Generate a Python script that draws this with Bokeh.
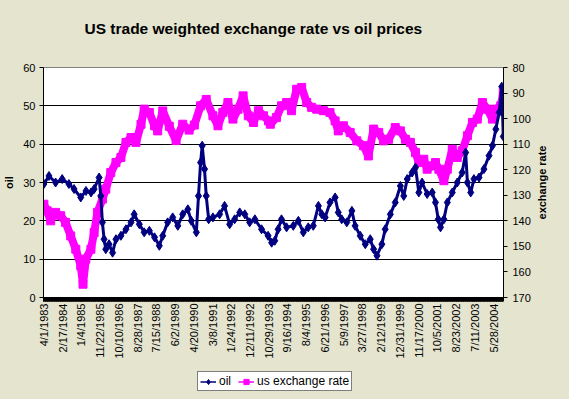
import math
import pandas as pd
from bokeh.plotting import figure
from bokeh.layouts import column, row
from bokeh.models import (Range1d, LinearAxis, FixedTicker, CustomJSTickFormatter,
                          Legend, LegendItem, Title)
from bokeh.embed import file_html
from bokeh.resources import INLINE

# ---------------- data ----------------
oil_dates = [
    "1983-04-01", "1983-06-28", "1983-10-20", "1984-02-10", "1984-06-05", "1984-09-01",
    "1984-12-25", "1985-03-25", "1985-06-20", "1985-08-12", "1985-11-05", "1985-12-05",
    "1986-01-01", "1986-01-30", "1986-02-28", "1986-04-25", "1986-06-25", "1986-08-22",
    "1986-11-15", "1987-02-10", "1987-05-08", "1987-07-01", "1987-09-28", "1987-12-20",
    "1988-03-18", "1988-06-15", "1988-09-05", "1988-11-03", "1989-01-26", "1989-04-23",
    "1989-07-20", "1989-10-12", "1990-01-08", "1990-03-08", "1990-06-03", "1990-07-10",
    "1990-08-15", "1990-09-12", "1990-10-22", "1990-11-20", "1991-01-01", "1991-03-15",
    "1991-07-08", "1991-10-01", "1991-12-28", "1992-03-22", "1992-06-18", "1992-09-13",
    "1992-12-06", "1993-03-05", "1993-06-28", "1993-10-18", "1993-12-18", "1994-02-10",
    "1994-04-08", "1994-06-05", "1994-09-01", "1994-12-25", "1995-03-22", "1995-06-15",
    "1995-09-08", "1995-12-03", "1996-03-01", "1996-04-28", "1996-06-25", "1996-09-16",
    "1996-12-13", "1997-02-05", "1997-04-05", "1997-07-01", "1997-09-27", "1997-11-22",
    "1998-02-17", "1998-05-15", "1998-08-08", "1998-10-05", "1998-12-02", "1999-02-24",
    "1999-04-22", "1999-07-20", "1999-10-12", "2000-01-08", "2000-03-06", "2000-05-05",
    "2000-07-28", "2000-09-24", "2000-11-20", "2001-01-15", "2001-04-12", "2001-07-08",
    "2001-09-02", "2001-10-20", "2001-11-28", "2002-01-25", "2002-03-25", "2002-06-18",
    "2002-09-12", "2002-12-05", "2003-02-03", "2003-03-05", "2003-05-01", "2003-06-25",
    "2003-09-20", "2003-12-14", "2004-03-10", "2004-05-08", "2004-07-05", "2004-09-01",
    "2004-10-15", "2004-10-29", "2004-11-10",
]
oil_values = [
    29.6, 31.7, 30.0, 30.9, 29.6, 28.3,
    26.1, 27.8, 27.4, 28.3, 31.3, 26.5,
    19.6, 15.2, 12.6, 13.9, 11.7, 15.2,
    16.1, 17.8, 19.6, 21.7, 19.1, 17.0,
    17.4, 15.7, 13.5, 16.1, 19.6, 20.9,
    18.7, 21.7, 23.0, 20.0, 17.0, 26.5,
    35.2, 39.6, 33.5, 26.5, 20.4, 20.9,
    21.7, 23.9, 19.1, 20.4, 22.2, 21.7,
    19.6, 20.4, 17.8, 16.1, 14.3, 14.8,
    17.8, 20.4, 18.3, 18.7, 20.0, 17.0,
    18.3, 18.7, 23.9, 21.7, 20.9, 24.8,
    26.1, 22.2, 20.4, 19.6, 22.6, 18.7,
    16.1, 13.9, 15.2, 12.6, 10.9, 13.9,
    17.8, 21.7, 24.8, 29.1, 26.5, 30.9,
    32.6, 33.9, 27.4, 30.0, 27.0, 27.4,
    24.8, 20.4, 18.3, 20.4, 24.8, 27.4,
    30.0, 32.6, 37.8, 30.0, 27.4, 30.9,
    31.3, 33.5, 37.0, 39.6, 43.9, 48.3,
    55.0, 48.3, 42.0,
]

fx_dates = [
    "1983-04-01", "1983-05-28", "1983-07-27", "1983-10-20", "1984-01-15", "1984-04-08",
    "1984-07-05", "1984-10-01", "1984-12-25", "1985-02-02", "1985-03-22", "1985-06-18",
    "1985-08-12", "1985-10-08", "1986-01-01", "1986-02-28", "1986-05-25", "1986-08-22",
    "1986-11-15", "1987-02-10", "1987-05-08", "1987-08-01", "1987-10-27", "1987-12-20",
    "1988-03-18", "1988-06-15", "1988-08-08", "1988-11-03", "1989-02-24", "1989-06-20",
    "1989-10-12", "1990-01-30", "1990-04-30", "1990-08-15", "1990-11-20", "1991-03-15",
    "1991-06-10", "1991-09-01", "1991-11-28", "1992-02-22", "1992-05-20", "1992-08-15",
    "1992-11-12", "1993-02-10", "1993-05-05", "1993-08-01", "1993-10-25", "1993-11-25",
    "1994-03-10", "1994-06-05", "1994-09-01", "1994-11-25", "1995-02-20", "1995-05-18",
    "1995-08-12", "1995-11-05", "1996-01-30", "1996-05-26", "1996-09-16", "1996-12-13",
    "1997-02-05", "1997-05-05", "1997-08-28", "1997-12-20", "1998-04-15", "1998-07-08",
    "1998-10-05", "1999-01-01", "1999-03-25", "1999-06-20", "1999-10-12", "2000-01-08",
    "2000-04-05", "2000-06-28", "2000-09-24", "2000-11-20", "2001-02-14", "2001-04-12",
    "2001-07-08", "2001-09-02", "2001-10-30", "2002-01-25", "2002-03-25", "2002-06-18",
    "2002-09-12", "2002-12-05", "2003-03-05", "2003-05-30", "2003-08-22", "2003-11-17",
    "2004-02-10", "2004-05-08", "2004-07-05", "2004-09-28", "2004-11-10",
]
fx_values = [
    133.5, 136.1, 140.0, 136.7, 138.0, 140.6,
    145.9, 151.1, 157.6, 164.8, 155.0, 151.1,
    144.6, 136.7, 131.5, 127.6, 121.1, 117.2,
    115.2, 109.3, 107.4, 109.3, 102.2, 96.3,
    97.6, 102.8, 104.8, 97.0, 103.0, 108.6,
    102.2, 104.5, 102.5, 95.0, 92.5, 98.9,
    102.8, 97.6, 93.7, 100.2, 96.3, 91.1,
    98.9, 101.5, 96.9, 98.9, 100.9, 102.2,
    99.6, 95.0, 93.7, 96.9, 88.5, 87.8,
    93.7, 95.6, 96.3, 96.9, 97.6, 100.9,
    104.8, 102.8, 105.4, 108.7, 110.6, 114.6,
    104.1, 105.4, 108.7, 108.1, 103.5, 104.8,
    108.1, 109.3, 113.3, 117.2, 115.9, 119.8,
    118.5, 117.2, 119.8, 124.3, 119.8, 112.0,
    115.2, 112.6, 106.7, 101.5, 100.2, 93.7,
    96.3, 100.2, 96.3, 95.0, 89.8,
]

x_labels = ["4/1/1983", "2/17/1984", "1/4/1985", "11/22/1985", "10/10/1986", "8/28/1987",
            "7/15/1988", "6/2/1989", "4/20/1990", "3/8/1991", "1/24/1992", "12/11/1992",
            "10/29/1993", "9/16/1994", "8/4/1995", "6/21/1996", "5/9/1997", "3/27/1998",
            "2/12/1999", "12/31/1999", "11/17/2000", "10/5/2001", "8/23/2002", "7/11/2003",
            "5/28/2004"]
oil_ticks = [0, 10, 20, 30, 40, 50, 60]
fx_ticks = [80, 90, 100, 110, 120, 130, 140, 150, 160, 170]

# ---------------- helpers ----------------
EPOCH = pd.Timestamp("1970-01-01")
def to_ms(ts):
    return (pd.DatetimeIndex(ts) - EPOCH) // pd.Timedelta(milliseconds=1)

oil_x = pd.to_datetime(oil_dates)
fx_x = pd.to_datetime(fx_dates)
tick_ms = list(to_ms(pd.to_datetime(x_labels, format="%m/%d/%Y")))
week_ms = list(to_ms(pd.date_range("1983-04-01", "2004-11-12", freq="7D")))

BG = "#E4E4CF"
FONT = "Liberation Sans"
NAVY = "#000080"
MAG = "#FF00FF"

p = figure(width=533, height=370, x_axis_type="datetime", output_backend="svg",
           toolbar_location=None,
           x_range=Range1d(pd.Timestamp("1983-03-26"), pd.Timestamp("2004-11-14")),
           y_range=Range1d(0, 60),
           min_border_left=43, min_border_right=30, min_border_top=67, min_border_bottom=73)
p.extra_y_ranges = {"fx": Range1d(start=170, end=80)}

p.background_fill_color = "white"
p.border_fill_color = BG
p.outline_line_color = "#808080"

# title (a blank spacer between frame and title lifts the title)
p.add_layout(Title(text=" ", text_font_size="1px", standoff=28), "above")
p.title.text = "US trade weighted exchange rate vs oil prices"
p.title.align = "left"
p.title.offset = 41
p.title.text_font = FONT
p.title.text_font_size = "15.5px"
p.title.text_font_style = "bold"
p.title.text_color = "black"
p.title.standoff = 0

# x axis
xa = p.xaxis[0]
xa.ticker = FixedTicker(ticks=tick_ms, minor_ticks=week_ms)
xa.formatter = CustomJSTickFormatter(code="""
const d = new Date(tick);
return (d.getUTCMonth()+1) + '/' + d.getUTCDate() + '/' + d.getUTCFullYear();
""")
xa.major_label_orientation = math.pi / 2
xa.major_label_text_font = FONT
xa.major_label_text_font_size = "11px"
xa.major_label_text_color = "black"
xa.major_label_standoff = 2
xa.major_tick_in = 0
xa.major_tick_out = 4
xa.minor_tick_in = 0
xa.minor_tick_out = 4
xa.axis_line_color = "black"
xa.major_tick_line_color = "black"
xa.minor_tick_line_color = "black"

# left axis
ya = p.yaxis[0]
ya.ticker = FixedTicker(ticks=oil_ticks)
ya.axis_label = "oil"
ya.axis_label_text_font = FONT
ya.axis_label_text_font_size = "11px"
ya.axis_label_text_font_style = "bold"
ya.axis_label_text_color = "black"
ya.axis_label_standoff = 5
ya.major_label_text_font = FONT
ya.major_label_text_font_size = "11px"
ya.major_label_text_color = "black"
ya.major_label_standoff = 4
ya.major_tick_in = 0
ya.major_tick_out = 4
ya.minor_tick_line_color = None
ya.axis_line_color = "black"

# right axis (its title is drawn in the strip to the right, reading upwards)
ra = LinearAxis(y_range_name="fx", ticker=FixedTicker(ticks=fx_ticks))
ra.major_label_text_font = FONT
ra.major_label_text_font_size = "11px"
ra.major_label_text_color = "black"
ra.major_label_standoff = 5
ra.major_tick_in = 0
ra.major_tick_out = 4
ra.minor_tick_line_color = None
ra.axis_line_color = "black"
p.add_layout(ra, "right")

# grid
p.xgrid.visible = False
p.ygrid.ticker = FixedTicker(ticks=[10, 20, 30, 40, 50])
p.ygrid.grid_line_color = "black"
p.ygrid.grid_line_width = 1

# series
p.line(fx_x, fx_values, y_range_name="fx", color=MAG, line_width=8)
p.scatter(fx_x, fx_values, y_range_name="fx", marker="square", size=8,
          fill_color=MAG, line_color=MAG)
p.line(oil_x, oil_values, color=NAVY, line_width=3)
p.scatter(oil_x, oil_values, marker="diamond", size=9, fill_color=NAVY, line_color=NAVY)

# ---------------- right strip holding the secondary axis title ----------------
rf = figure(width=36, height=370, output_backend="svg", toolbar_location=None,
            x_range=Range1d(0, 1), y_range=Range1d(0, 1),
            x_axis_location=None, y_axis_location=None,
            min_border_left=0, min_border_right=0, min_border_top=67, min_border_bottom=73)
rf.grid.visible = False
rf.outline_line_color = None
rf.background_fill_color = BG
rf.border_fill_color = BG
rf.add_layout(Title(text="exchange rate", align="center", text_font=FONT,
                    text_font_size="11px", text_font_style="bold", text_color="black",
                    standoff=1), "left")

# ---------------- legend strip below the chart ----------------
lf = figure(width=569, height=29, output_backend="svg", toolbar_location=None,
            x_range=Range1d(0, 1), y_range=Range1d(0, 1),
            x_axis_location=None, y_axis_location=None,
            min_border_left=0, min_border_right=0, min_border_top=0, min_border_bottom=0)
lf.grid.visible = False
lf.outline_line_color = None
lf.background_fill_color = BG
lf.border_fill_color = BG

# legend stand-ins: same series, far outside this strip's (0..1) view, so only the
# legend swatches are drawn
lg_oil_l = lf.line(to_ms(oil_x), oil_values, color=NAVY, line_width=1.5)
lg_oil_m = lf.scatter(to_ms(oil_x), oil_values, marker="diamond", size=7,
                      fill_color=NAVY, line_color=NAVY)
lg_fx_l = lf.line(to_ms(fx_x), fx_values, color=MAG, line_width=1.5)
lg_fx_m = lf.scatter(to_ms(fx_x), fx_values, marker="square", size=6,
                     fill_color=MAG, line_color=MAG)

legend = Legend(items=[LegendItem(label="oil", renderers=[lg_oil_l, lg_oil_m]),
                       LegendItem(label="us exchange rate", renderers=[lg_fx_l, lg_fx_m])],
                orientation="horizontal", location=(197, 8))
legend.margin = 0
legend.padding = 2
legend.spacing = 7
legend.glyph_width = 16
legend.glyph_height = 13
legend.label_height = 13
legend.label_width = 8
legend.label_standoff = 3
legend.label_text_font = FONT
legend.label_text_font_size = "12px"
legend.label_text_color = "black"
legend.border_line_color = "black"
legend.border_line_width = 1
legend.background_fill_color = "white"
legend.background_fill_alpha = 1
lf.add_layout(legend, "center")

layout = column(row(p, rf, spacing=0), lf, spacing=0)

try:
    from bokeh.models import GlobalInlineStyleSheet
    layout.stylesheets = [GlobalInlineStyleSheet(css="body { background: %s; }" % BG)]
except Exception:
    pass

open("out.html", "w").write(file_html(layout, INLINE))
